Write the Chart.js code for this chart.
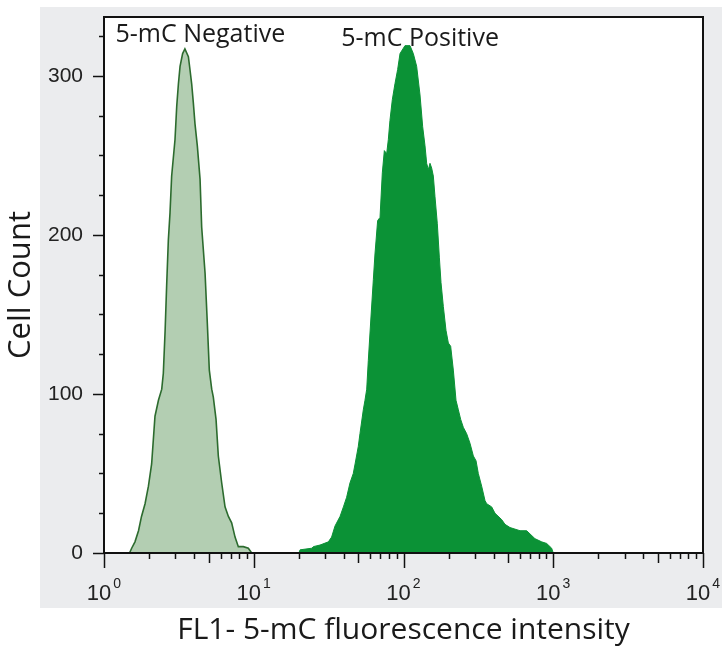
<!DOCTYPE html>
<html>
<head>
<meta charset="UTF-8">
<title>5-mC flow cytometry histogram</title>
<script src="https://cdn.jsdelivr.net/npm/chart.js"></script>
<style>
  html, body { margin: 0; padding: 0; background: #fff; }
  #wrap { width: 722px; height: 648px; }
</style>
</head>
<body>
<div id="wrap"><canvas id="chart"></canvas></div>
<script>
// 5-mC negative histogram (intensity, cell count)
const negX = [1.48,1.53,1.61,1.70,1.78,1.88,1.98,2.08,2.19,2.31,2.43,2.49,2.56,2.62,2.69,2.76,2.83,2.98,3.06,3.14,3.22,3.35,3.47,3.66,3.75,3.85,3.95,4.05,4.20,4.38,4.49,4.73,4.90,5.05,5.24,5.37,5.60,5.80,6.11,6.43,6.77,7.12,7.50,7.89,8.52,9.20,9.69];
const negY = [0,3,7,14,23,31,42,56,86,96,103,113,140,168,197,214,237,260,281,295,306,314,317,312,304,295,283,270,256,235,205,176,144,115,103,98,84,61,44,29,23,19,10,4,4,3,0];

// 5-mC positive histogram
const posX = [20.0,20.4,24.4,25.0,27.7,31.5,33.1,34.9,37.7,39.7,41.7,43.9,46.2,47.5,49.9,51.2,53.9,55.3,56.8,58.2,60.7,62.9,64.5,67.2,69.7,72.2,74.5,77.2,79.2,81.2,84.2,87.7,91.4,94.8,102.3,110.5,116.3,122.4,128.9,134.3,139.2,142.8,146.5,150.3,154.2,158.2,162.3,168.2,173.5,178.0,184.5,192.2,199.3,206.5,215.2,224.2,232.4,240.9,250.9,264.1,278.0,292.7,305.0,315.9,332.6,350.1,359.3,387.9,408.3,452.4,476.2,514.3,599.8,664.4,699.4,755.2,837.0,903.8,975.9,1000];
const posY = [0,2,3,4,5,7,10,17,23,29,35,44,50,56,67,75,90,96,103,121,149,172,188,209,211,239,253,251,260,272,285,295,304,314,319,319,314,306,288,268,256,245,241,245,242,237,224,207,186,170,155,140,132,130,115,96,90,84,79,75,69,61,58,50,42,33,31,29,25,21,18,16,14,14,12,9,7,6,3,0];

// axes
const xDecades = [0, 1, 2, 3, 4];
const yMajor = [0, 100, 200, 300];
const yMinorStep = 25;
const yMax = 337;

// peak labels
const peakNames = ['5-mC Negative', '5-mC Positive'];
const peakLabelX = [4.4, 129];
const peakLabelY = [326, 323];

function pts(xs, ys) { return xs.map((x, i) => ({ x: x, y: ys[i] })); }

const decor = {
  id: 'decor',
  beforeDraw(chart) {
    const { ctx, chartArea: a } = chart;
    ctx.save();
    ctx.fillStyle = '#ebecee';
    ctx.fillRect(a.left - 64, a.top - 10, chart.width - (a.left - 64), (a.bottom + 55) - (a.top - 10));
    ctx.fillStyle = '#ffffff';
    ctx.fillRect(a.left, a.top, a.right - a.left, a.bottom - a.top);
    ctx.restore();
  },
  afterDraw(chart) {
    const { ctx, chartArea: a, scales } = chart;
    const xs = scales.x, ys = scales.y;
    ctx.save();
    // frame
    ctx.strokeStyle = '#111';
    ctx.lineWidth = 2;
    ctx.strokeRect(a.left, a.top, a.right - a.left, a.bottom - a.top);
    // x ticks
    ctx.lineWidth = 1.5;
    ctx.beginPath();
    xDecades.forEach(d => {
      const top = d === xDecades[xDecades.length - 1] ? 1 : 9;
      for (let k = 1; k <= top; k++) {
        const px = Math.round(xs.getPixelForValue(k * Math.pow(10, d))) + 0.5;
        const len = k === 1 ? 15 : (k === 5 ? 10 : 6);
        ctx.moveTo(px, a.bottom);
        ctx.lineTo(px, a.bottom + len);
      }
    });
    // y ticks
    for (let v = 0; v <= yMax; v += yMinorStep) {
      const py = Math.round(ys.getPixelForValue(v)) + 0.5;
      const len = yMajor.includes(v) ? 11 : 5;
      ctx.moveTo(a.left - len, py);
      ctx.lineTo(a.left, py);
    }
    ctx.stroke();
    // x labels 10^n
    ctx.fillStyle = '#222';
    ctx.textBaseline = 'alphabetic';
    const big = '22px "Liberation Sans", Arial, sans-serif';
    const small = '14px "Liberation Sans", Arial, sans-serif';
    xDecades.forEach(d => {
      const px = xs.getPixelForValue(Math.pow(10, d));
      ctx.font = big;
      const w1 = ctx.measureText('10').width;
      ctx.font = small;
      const w2 = ctx.measureText(String(d)).width;
      const x0 = px - (w1 + w2 + 2) / 2;
      ctx.font = big;
      ctx.fillText('10', x0, a.bottom + 47);
      ctx.font = small;
      ctx.fillText(String(d), x0 + w1 + 2, a.bottom + 35);
    });
    // peak labels
    ctx.fillStyle = '#1a1a1a';
    ctx.font = '25px "Open Sans", sans-serif';
    ctx.textAlign = 'center';
    ctx.textBaseline = 'middle';
    peakNames.forEach((n, i) => {
      ctx.fillText(n, xs.getPixelForValue(peakLabelX[i]), ys.getPixelForValue(peakLabelY[i]));
    });
    ctx.restore();
  }
};

new Chart(document.getElementById('chart'), {
  type: 'line',
  data: {
    datasets: [
      {
        label: '5-mC Negative',
        data: pts(negX, negY),
        borderColor: '#2c6b2e',
        backgroundColor: '#b3ceb2',
        borderWidth: 1.6,
        fill: 'origin',
        pointRadius: 0,
        tension: 0
      },
      {
        label: '5-mC Positive',
        data: pts(posX, posY),
        borderColor: '#0b9236',
        backgroundColor: '#0b9236',
        borderWidth: 1,
        fill: 'origin',
        pointRadius: 0,
        tension: 0
      }
    ]
  },
  options: {
    responsive: true,
    maintainAspectRatio: false,
    animation: false,
    layout: { padding: { left: 0, right: 19, top: 17, bottom: 0 } },
    plugins: { legend: { display: false }, tooltip: { enabled: false } },
    scales: {
      x: {
        type: 'logarithmic',
        min: 1,
        max: 10000,
        grid: { display: false, drawTicks: false },
        border: { display: false },
        ticks: { display: false },
        title: {
          display: true,
          text: 'FL1- 5-mC fluorescence intensity',
          color: '#1a1a1a',
          font: { family: 'Open Sans', size: 30 },
          padding: { top: 0, bottom: 0 }
        },
        afterFit(scale) {
          scale.height = 95;
          scale.paddingLeft = 0; scale.paddingRight = 0;
        }
      },
      y: {
        min: 0,
        max: yMax,
        grid: { display: false, drawTicks: false },
        border: { display: false },
        ticks: {
          stepSize: 100,
          padding: 21,
          color: '#222',
          font: { family: 'Liberation Sans', size: 21 },
          callback: v => (yMajor.includes(v) ? String(v) : '')
        },
        title: {
          display: true,
          text: 'Cell Count',
          color: '#1a1a1a',
          font: { family: 'Open Sans', size: 31 },
          padding: { top: 3, bottom: 0 }
        },
        afterFit(scale) {
          scale.width = 104;
          scale.paddingTop = 0; scale.paddingBottom = 0;
        }
      }
    }
  },
  plugins: [decor]
});
</script>
</body>
</html>
